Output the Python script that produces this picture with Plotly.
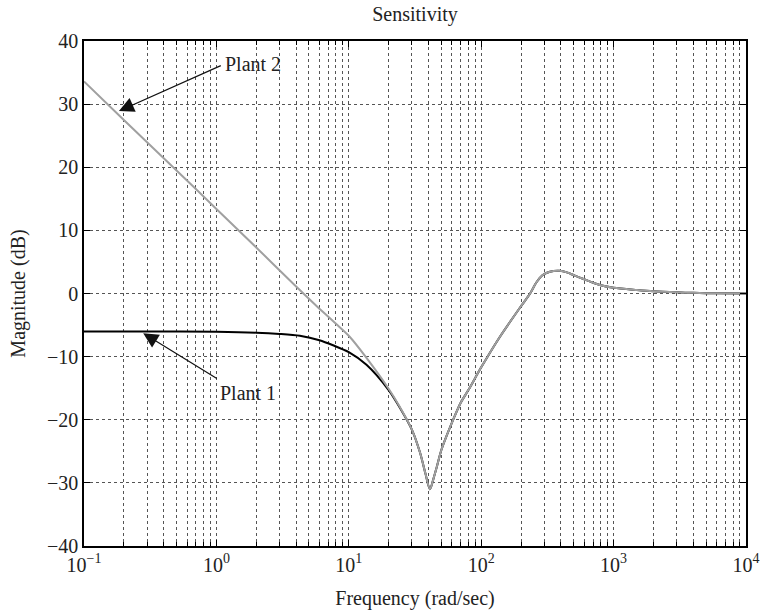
import math
import plotly.graph_objects as go

# ---- data ----
freq1 = [0.1, 0.3, 1, 2, 3, 4.27, 6, 7.6, 10, 13.6, 20, 24, 30, 34.5, 38, 41,
         43.5, 46.3, 50, 60, 70, 80, 100, 137, 200, 234, 260, 290, 330, 390,
         450, 500, 600, 700, 800, 1000, 1500, 2000, 3000, 4000, 6000, 10000]
mag1 = [-6.0, -6.0, -6.05, -6.2, -6.4, -6.7, -7.4, -8.2, -9.3, -11.3, -15.3,
        -17.9, -21.6, -25.2, -28.6, -31.0, -29.4, -27.4, -24.8, -20.5, -17.3, -15.3,
        -11.7, -7.0, -2.0, 0.0, 1.7, 2.9, 3.45, 3.6, 3.3, 2.9, 2.25, 1.7, 1.3,
        0.9, 0.55, 0.35, 0.18, 0.1, 0.03, 0.0]

freq2 = [0.1, 0.2, 0.5, 1, 2, 4, 6, 8, 10, 13.6, 20, 24, 30, 34.5, 38, 41,
         43.5, 46.3, 50, 60, 70, 80, 100, 137, 200, 234, 260, 290, 330, 390,
         450, 500, 600, 700, 800, 1000, 1500, 2000, 3000, 4000, 6000, 10000]
mag2 = [33.6, 27.5, 19.5, 13.4, 7.3, 1.1, -2.4, -4.8, -6.7, -10.2, -15.1, -17.8,
        -21.6, -25.2, -28.6, -31.0, -29.4, -27.4, -24.8, -20.5, -17.3, -15.3,
        -11.7, -7.0, -2.0, 0.0, 1.7, 2.9, 3.45, 3.6, 3.3, 2.9, 2.25, 1.7, 1.3,
        0.9, 0.55, 0.35, 0.18, 0.1, 0.03, 0.0]

x_tickvals = [0.1, 1, 10, 100, 1000, 10000]
x_ticktext = ["10<sup>\u22121</sup>", "10<sup>0</sup>", "10<sup>1</sup>",
              "10<sup>2</sup>", "10<sup>3</sup>", "10<sup>4</sup>"]
y_tickvals = [-40, -30, -20, -10, 0, 10, 20, 30, 40]

FONT = "Liberation Serif"
GRID = "#555555"

fig = go.Figure()
fig.add_trace(go.Scatter(x=freq1, y=mag1, mode="lines", name="Plant 1",
                         line=dict(color="black", width=2, shape="spline", smoothing=0.8)))
fig.add_trace(go.Scatter(x=freq2, y=mag2, mode="lines", name="Plant 2",
                         line=dict(color="#a0a0a0", width=2, shape="spline", smoothing=0.8)))

axis_common = dict(
    showline=True, linecolor="black", linewidth=1.5, mirror="allticks",
    ticks="inside", ticklen=6, tickcolor="black", tickwidth=1,
    showgrid=True, gridcolor=GRID, gridwidth=1, griddash="dot",
    tickfont=dict(family=FONT, size=20, color="#222"),
    zeroline=False, automargin=False,
)

fig.update_xaxes(
    type="log", range=[-1, 4], tickvals=x_tickvals, ticktext=x_ticktext,
    minor=dict(dtick="D1", ticks="inside", ticklen=4, tickcolor="black",
               showgrid=True, gridcolor=GRID, gridwidth=1, griddash="dot"),
    title=dict(text="Frequency (rad/sec)", font=dict(family=FONT, size=20, color="#222"),
               standoff=16),
    **axis_common,
)
fig.update_yaxes(
    range=[-40, 40], tickvals=y_tickvals,
    title=dict(text="Magnitude (dB)", font=dict(family=FONT, size=20, color="#222"),
               standoff=16),
    **axis_common,
)

# annotations: arrows + labels
ann_font = dict(family=FONT, size=20, color="#222")
fig.add_annotation(x=math.log10(0.1836), y=28.9, ax=math.log10(1.108), ay=36.2,
                   axref="x", ayref="y", xref="x", yref="y", text="",
                   showarrow=True, arrowhead=2, arrowsize=2.5, arrowwidth=1.2,
                   arrowcolor="#111", standoff=0, startstandoff=0)
fig.add_annotation(x=math.log10(1.12), y=36.3, xref="x", yref="y", text="Plant 2",
                   showarrow=False, xanchor="left", yanchor="middle", font=ann_font)
fig.add_annotation(x=math.log10(0.28), y=-6.3, ax=math.log10(1.034), ay=-13.6,
                   axref="x", ayref="y", xref="x", yref="y", text="",
                   showarrow=True, arrowhead=2, arrowsize=2.5, arrowwidth=1.2,
                   arrowcolor="#111", standoff=0, startstandoff=0)
fig.add_annotation(x=math.log10(1.037), y=-15.8, xref="x", yref="y", text="Plant 1",
                   showarrow=False, xanchor="left", yanchor="middle", font=ann_font)

fig.update_layout(
    width=760, height=615,
    margin=dict(l=84, r=14, t=41, b=69),
    paper_bgcolor="white", plot_bgcolor="white",
    showlegend=False,
    title=dict(text="Sensitivity", x=415 / 760, xanchor="center",
               y=1 - 14 / 615, yanchor="middle",
               font=dict(family=FONT, size=20, color="#222")),
)

fig.write_html("out.html")
